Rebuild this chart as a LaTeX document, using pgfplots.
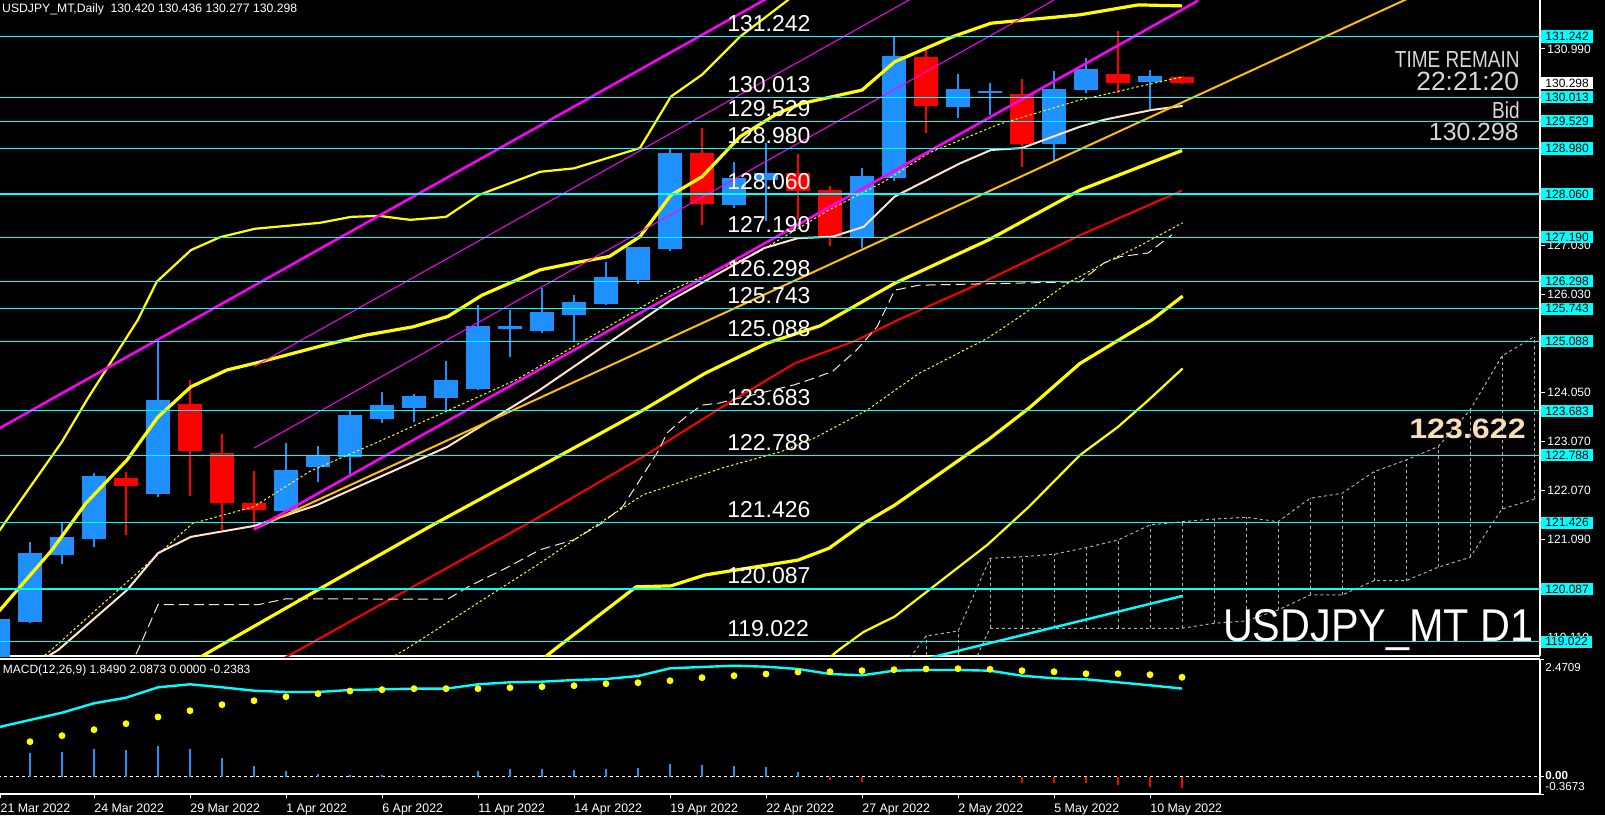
\documentclass[border=0pt]{standalone}
\usepackage{graphicx}
\usepackage{pgfplots}
\pgfplotsset{compat=1.18}
\usepackage{pgfplotstable}
\usepackage{fontspec}
\setmainfont{Liberation Sans}
\newfontfamily\narrowfont[FakeStretch=0.82]{Liberation Sans}
\definecolor{mtblue}{RGB}{30,144,255}
\definecolor{mtred}{RGB}{255,0,0}
\definecolor{mtcyan}{RGB}{0,255,255}
\definecolor{mtmag}{RGB}{255,0,255}
\definecolor{mtyel}{RGB}{255,255,0}
\definecolor{mtorange}{RGB}{255,190,0}
\definecolor{mtcream}{RGB}{255,228,205}
\definecolor{mtgray}{RGB}{175,175,175}
\definecolor{mttext}{RGB}{215,215,215}
\definecolor{mtwheat}{RGB}{250,222,185}
\newcommand{\fs}[1]{\fontsize{#1}{#1}\selectfont}

\pgfplotstableread{
n o h l c
0 118.70 119.50 118.60 119.48
1 119.427 121.036 119.40 120.814
2 120.78 121.426 120.598 121.137
3 121.103 122.429 120.941 122.375
5 122.011 125.08 121.951 123.903
9 121.668 123.035 121.65 122.49
10 122.556 122.974 122.253 122.786
11 122.758 123.687 122.389 123.6
12 123.525 124.064 123.445 123.802
13 123.747 124.02 123.465 123.984
14 123.949 124.69 123.675 124.307
15 124.131 125.821 124.10 125.397
16 125.342 125.72 124.771 125.403
17 125.296 126.164 125.25 125.68
18 125.625 126.023 125.094 125.882
19 125.847 126.683 125.83 126.386
20 126.332 127.0 126.239 126.992
21 126.958 128.971 126.918 128.89
23 127.84 128.702 127.785 128.379
24 128.34 129.10 127.52 128.49
27 127.188 128.593 126.966 128.425
28 128.391 131.238 128.325 130.848
30 129.825 130.485 129.603 130.182
31 130.107 130.297 129.657 130.148
33 129.072 130.552 128.714 130.182
34 130.162 130.802 130.095 130.586
36 130.329 130.566 129.772 130.445
}\upc

\pgfplotstableread{
n o h l c
4 122.328 122.449 121.177 122.173
6 123.822 124.307 121.971 122.879
7 122.833 123.216 121.278 121.829
8 121.823 122.469 121.379 121.688
22 128.89 129.395 127.442 127.866
25 128.48 128.87 127.537 128.129
26 128.143 128.224 127.012 127.2
29 130.828 130.97 129.3 129.845
32 130.081 130.384 128.613 129.072
35 130.485 131.353 130.095 130.309
37 130.420 130.436 130.277 130.298
}\dnc

\pgfplotstableread{
n top bot
29 119.138 117.90
30 119.239 117.90
31 120.707 119.294
32 120.739 119.294
33 120.788 119.294
34 120.921 119.294
35 121.076 119.294
36 121.379 119.294
37 121.446 119.294
38 121.5 119.395
39 121.535 119.441
40 121.446 119.663
41 121.918 119.966
42 122.019 119.966
43 122.455 120.255
44 122.691 120.255
45 122.96 120.525
46 123.701 120.727
47 124.791 121.702
48 125.181 121.898
}\cloud

\pgfplotstableread{
n macd sig hist
0 1.035 0.62 0.45
1 1.189 0.732 0.500
2 1.342 0.859 0.521
3 1.540 0.985 0.584
4 1.657 1.111 0.563
5 1.876 1.252 0.648
6 1.939 1.384 0.584
7 1.876 1.510 0.395
8 1.805 1.594 0.227
9 1.777 1.678 0.122
10 1.777 1.742 0.059
11 1.819 1.798 0.030
12 1.834 1.826 0.025
13 1.847 1.847 0.010
14 1.847 1.847 0.015
15 1.939 1.847 0.122
16 1.981 1.868 0.151
17 1.994 1.889 0.151
18 2.029 1.910 0.143
19 2.050 1.952 0.151
20 2.113 1.973 0.172
21 2.275 2.015 0.263
22 2.303 2.078 0.248
23 2.330 2.120 0.227
24 2.309 2.156 0.193
25 2.261 2.198 0.101
26 2.156 2.204 -0.074
27 2.128 2.225 -0.109
28 2.225 2.246 0.005
29 2.240 2.261 0.002
30 2.240 2.267 0.005
31 2.225 2.254 -0.010
32 2.120 2.225 -0.143
33 2.065 2.204 -0.143
34 2.044 2.162 -0.143
35 1.981 2.162 -0.179
36 1.918 2.141 -0.221
37 1.849 2.0873 -0.2383
}\macdt

\begin{document}
\begin{tikzpicture}[x=1pt,y=1pt]
\fill[black] (0,0) rectangle (802.5,407.5);
\useasboundingbox (0,0) rectangle (802.5,407.5);

\begin{axis}[
 at={(0pt,79.5pt)}, anchor=south west,
 width=770pt, height=328pt, scale only axis,
 xmin=0.0625, xmax=48.1875, ymin=118.734, ymax=131.979,
 axis x line*=bottom, axis y line*=right,
 axis line style={white, line width=0.6pt},
 clip mode=individual,
 xtick=\empty,
 /pgf/number format/assume math mode=true,
 ytick={119.110,121.090,122.070,123.070,124.050,126.030,127.030,130.990},
 yticklabels={119.110,121.090,122.070,123.070,124.050,126.030,127.030,130.990},
 ytick style={white, line width=0.5pt},
 tick align=outside, major tick length=2.5pt,
 yticklabel style={font=\fs{6pt}, text=white, inner sep=1pt},
 extra y ticks={131.242,130.013,129.529,128.980,128.060,127.190,126.298,125.743,125.088,123.683,122.788,121.426,120.087,119.022},
 extra y tick labels={131.242,130.013,129.529,128.980,128.060,127.190,126.298,125.743,125.088,123.683,122.788,121.426,120.087,119.022},
 extra y tick style={major tick length=0pt, yticklabel style={fill=mtcyan, text=black, inner xsep=2pt, inner ysep=0.9pt, xshift=0.5pt}},
]
% candles
\addplot[draw=none, forget plot, error bars/.cd, y dir=both, y explicit, error mark=none, error bar style={draw=mtblue, line width=0.6pt}]
 table[x=n, y expr=(\thisrow{h}+\thisrow{l})/2, y error expr=(\thisrow{h}-\thisrow{l})/2] {\upc};
\addplot[draw=none, forget plot, error bars/.cd, y dir=both, y explicit, error mark=none, error bar style={draw=mtblue, line width=12pt}]
 table[x=n, y expr=(\thisrow{o}+\thisrow{c})/2, y error expr=abs(\thisrow{c}-\thisrow{o})/2] {\upc};
\addplot[draw=none, forget plot, error bars/.cd, y dir=both, y explicit, error mark=none, error bar style={draw=mtred, line width=0.6pt}]
 table[x=n, y expr=(\thisrow{h}+\thisrow{l})/2, y error expr=(\thisrow{h}-\thisrow{l})/2] {\dnc};
\addplot[draw=none, forget plot, error bars/.cd, y dir=both, y explicit, error mark=none, error bar style={draw=mtred, line width=12pt}]
 table[x=n, y expr=(\thisrow{o}+\thisrow{c})/2, y error expr=abs(\thisrow{c}-\thisrow{o})/2] {\dnc};

% ichimoku cloud
\addplot[draw=none, forget plot, error bars/.cd, y dir=plus, y explicit, error mark=none, error bar style={draw=mtgray, line width=0.5pt, dash pattern=on 1.5pt off 1.5pt}]
 table[x=n, y=bot, y error expr=\thisrow{top}-\thisrow{bot}] {\cloud};
\addplot[mtgray, line width=0.5pt, dash pattern=on 1.5pt off 1.5pt] coordinates {(28.5,118.70) (29,119.138) (30,119.239) (31,120.707) (32,120.739) (33,120.788) (34,120.921) (35,121.076) (36,121.379) (37,121.446) (38,121.5) (39,121.535) (40,121.446) (41,121.918) (42,122.019) (43,122.455) (44,122.691) (45,122.96) (46,123.701) (47,124.791) (48,125.181)};
\addplot[mtgray, line width=0.5pt, dash pattern=on 1.5pt off 1.5pt] table[x=n, y=bot] {\cloud};

% indicators
\addplot[mtyel, line width=1.1pt] coordinates {(-1,120.31) (0.06,121.28) (2.0,123.06) (2.81,123.94) (4.37,125.52) (4.96,126.29) (6.03,126.93) (6.94,127.19) (8.03,127.36) (10.06,127.48) (11.03,127.60) (11.91,127.62) (12.88,127.54) (14.0,127.60) (15.02,128.04) (16.94,128.51) (18.0,128.58) (20.06,128.99) (21.03,130.03) (22.0,130.47) (23.19,131.24) (24.69,131.98) (25.5,132.5)};
\addplot[mtyel, line width=1.6pt] coordinates {(-1,118.87) (0.06,119.66) (1.68,120.87) (2.75,121.82) (4.03,122.69) (5.0,123.56) (6.03,124.17) (7.16,124.51) (8.25,124.68) (10.19,125.01) (11.47,125.21) (12.97,125.38) (14.06,125.59) (15.13,126.02) (16.94,126.53) (18.0,126.67) (19.1,126.80) (20.06,127.20) (21.03,128.04) (22.0,128.41) (23.19,129.22) (24.36,129.69) (25.12,129.89) (27.0,130.16) (28.02,130.73) (29.84,131.24) (31.03,131.51) (33.81,131.68) (35.63,131.88) (37.0,131.86)};
\addplot[mtyel, line width=1.6pt] coordinates {(5.5,118.4) (6.72,118.86) (10.16,120.13) (13.5,121.35) (16.94,122.56) (20.16,123.70) (22.09,124.44) (24.03,125.05) (25.69,125.40) (28.02,126.26) (30.94,127.13) (33.81,128.14) (37.0,128.94)};
\addplot[mtyel, line width=1.6pt] coordinates {(16.5,118.4) (17.38,118.86) (19.94,120.13) (21.03,120.15) (22.09,120.37) (25.0,120.67) (25.97,120.91) (27.05,121.41) (28.02,121.78) (30.92,123.09) (32.22,123.74) (33.81,124.64) (36.06,125.52) (37.02,126.00)};
\addplot[mtyel, line width=1.1pt] coordinates {(25.8,118.6) (26.28,118.86) (27.05,119.22) (28.02,119.53) (30.92,120.98) (32.22,121.75) (33.81,122.79) (35.0,123.36) (35.95,123.90) (37.02,124.54)};
\addplot[mtred, line width=1pt] coordinates {(7.56,118.19) (9.41,118.86) (16.94,121.55) (20.16,122.76) (22.97,123.90) (24.89,124.64) (26.83,125.11) (28.13,125.52) (30.94,126.33) (33.81,127.23) (37.0,128.13)};
\addplot[mtcream, line width=0.5pt, dash pattern=on 5pt off 2.5pt] coordinates {(4.1,118.5) (4.38,118.86) (5.0,119.77) (8.13,119.77) (9.0,119.89) (14.05,119.88) (14.69,120.13) (15.34,120.34) (15.88,120.51) (16.94,120.88) (18.0,121.08) (18.88,121.42) (19.52,121.75) (20.06,122.29) (20.65,122.89) (20.91,123.24) (21.56,123.60) (22.0,123.80) (22.53,123.84) (24.89,124.21) (25.53,124.35) (26.08,124.48) (26.83,124.91) (27.47,125.38) (28.02,126.12) (28.77,126.22) (33.81,126.29) (34.56,126.67) (35.09,126.80) (35.94,126.87) (36.48,127.14) (36.69,127.24)};
\addplot[mtyel, line width=0.5pt, dash pattern=on 1.2pt off 1.2pt] coordinates {(12.0,118.6) (12.72,118.86) (16.94,120.61) (18.33,121.22) (20.16,121.99) (22.63,122.53) (24.47,122.86) (25.53,123.14) (27.16,123.70) (28.78,124.44) (30.92,125.15) (31.78,125.52) (33.5,126.29) (34.67,126.70) (35.63,127.00) (37.02,127.48)};
\addplot[mtyel, line width=0.5pt, dash pattern=on 1.2pt off 1.2pt] coordinates {(1.0,118.5) (1.67,118.86) (6.08,121.41) (8.0,121.75) (9.74,122.46) (11.89,123.06) (16.19,124.31) (21.03,126.12) (23.72,126.87) (25.97,127.74) (27.69,128.31) (29.09,128.89) (31.23,129.46) (33.81,129.96) (37.02,130.43)};
\addplot[mtcream, line width=1pt] coordinates {(1.0,118.5) (1.89,118.86) (4.04,120.07) (5.0,120.81) (6.03,121.14) (8.0,121.36) (9.96,121.78) (14.05,122.96) (16.94,124.11) (21.03,125.92) (23.94,126.97) (25.0,127.17) (26.08,127.20) (27.05,127.40) (28.02,128.01) (30.06,128.68) (31.03,128.95) (32.0,128.99) (33.81,129.42) (34.56,129.56) (36.06,129.76) (37.02,129.84)};
\addplot[mtcyan, line width=1.2pt] coordinates {(28.5,118.60) (37,119.945)};

% objects: trend line, regression channel
\addplot[mtorange, line width=1pt] coordinates {(8,121.292) (44,131.99)};
\addplot[mtmag, line width=1.25pt] coordinates {(-1,122.953) (25,132.36)};
\addplot[mtmag, line width=1.25pt] coordinates {(8,121.292) (37.5,131.965)};
\addplot[mtmag, line width=0.5pt] coordinates {(8,124.575) (29,132.17)};
\addplot[mtmag, line width=0.5pt] coordinates {(8,122.932) (33,131.977)};

% horizontal levels
\pgfplotsinvokeforeach{131.242,130.013,129.529,128.980,128.060,127.190,126.298,125.743,125.088,123.683,122.788,121.426,120.087,119.022}{
 \addplot[mtcyan, line width=0.6pt] coordinates {(-1,#1) (49,#1)};
 \node[anchor=base west, text=white, font=\fs{11.5pt}, inner sep=0pt, yshift=2.5pt] at (axis cs:22.78,#1) {#1};
}
\node[anchor=west, fill=white, text=black, font=\fs{6pt}, inner xsep=2pt, inner ysep=0.9pt, xshift=0.5pt] at (axis cs:48.1875,130.298) {130.298};
\end{axis}

\begin{axis}[
 at={(0pt,10.5pt)}, anchor=south west,
 width=770pt, height=67.5pt, scale only axis,
 xmin=0.0625, xmax=48.1875, ymin=-0.3673, ymax=2.4709,
 axis x line*=box, axis y line*=right,
 axis line style={white, line width=0.6pt},
 clip mode=individual,
 /pgf/number format/assume math mode=true,
 xtick pos=left,
 xtick={0.07,3,6,9,12,15,18,21,24,27,30,33,36},
 xticklabels={21 Mar 2022,24 Mar 2022,29 Mar 2022,1 Apr 2022,6 Apr 2022,11 Apr 2022,14 Apr 2022,19 Apr 2022,22 Apr 2022,27 Apr 2022,2 May 2022,5 May 2022,10 May 2022},
 xticklabel style={anchor=north west, inner sep=0pt, font=\fs{6.2pt}, text=white, yshift=-2.5pt},
 ytick={2.4709,0,-0.3673}, yticklabels={,,},
 tick style={white, line width=0.5pt},
 tick align=outside, major tick length=2pt,
]
\addplot[white, line width=0.5pt, dash pattern=on 1.5pt off 1.5pt] coordinates {(0,0) (48.1875,0)};
\addplot[ycomb, mtblue, line width=1pt] table[x=n, y=hist] {\macdt};
\addplot[ycomb, mtred, line width=1pt] table[x=n, y expr={\thisrow{hist}<0 ? \thisrow{hist} : 0}] {\macdt};
\addplot[mtcyan, line width=1.2pt] table[x=n, y=macd] {\macdt};
\addplot[only marks, mark=*, mark size=1.5pt, mtyel, mark options={draw=mtyel, fill=mtyel}] table[x=n, y=sig] {\macdt};
\end{axis}

% texts
\node[anchor=west, text=white, font=\fs{6.1pt}, inner sep=0pt] at (0.9,402.9) {USDJPY\_MT,Daily\ \ 130.420 130.436 130.277 130.298};
\node[anchor=west, text=white, font=\fs{6pt}, inner sep=0pt] at (1.25,72.5) {MACD(12,26,9) 1.8490 2.0873 0.0000 -0.2383};
\node[anchor=east, text=mttext, font=\narrowfont\fs{11.6pt}, inner sep=0pt] at (760,377.5) {TIME REMAIN};
\node[anchor=east, text=mttext, font=\fs{13.2pt}, inner sep=0pt] at (759.75,366.9) {22:21:20};
\node[anchor=east, text=mttext, font=\narrowfont\fs{11.6pt}, inner sep=0pt] at (760,352.5) {Bid};
\node[anchor=east, text=mttext, font=\fs{12.4pt}, inner sep=0pt] at (759.5,341.6) {130.298};
\node[text=mtwheat, font=\bfseries\fs{14pt}, inner sep=0pt] at (733.75,192.85) {\scalebox{1.15}[1]{123.622}};
\node[anchor=east, text=white, font=\fs{23pt}, inner sep=0pt] at (767,92.5) {\scalebox{0.9}[1]{USDJPY\_MT D1}};
\node[anchor=west, text=white, font=\fs{5.8pt}, inner sep=0pt] at (772.5,73.5) {2.4709};
\node[anchor=west, text=white, font=\bfseries\fs{5.8pt}, inner sep=0pt] at (772.5,19.5) {0.00};
\node[anchor=west, text=white, font=\fs{5.8pt}, inner sep=0pt] at (772.5,14.2) {-0.3673};
\end{tikzpicture}
\end{document}
